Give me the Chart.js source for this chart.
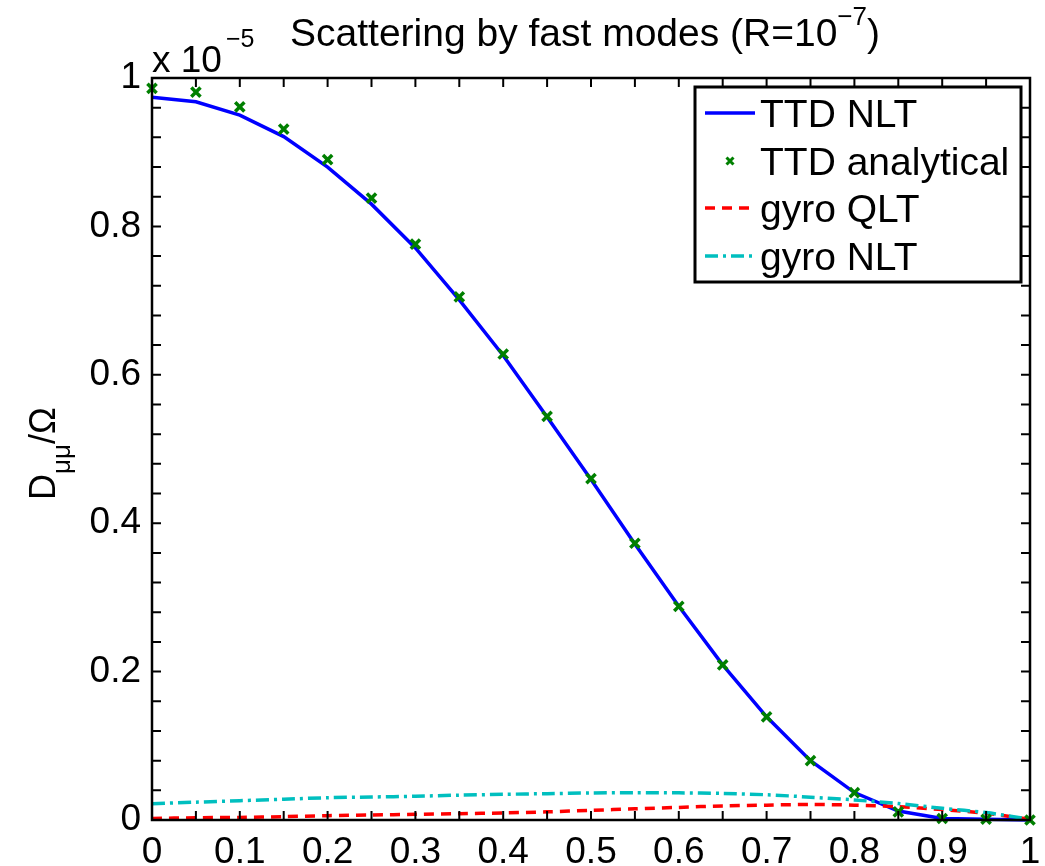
<!DOCTYPE html>
<html>
<head>
<meta charset="utf-8">
<script src="https://cdn.jsdelivr.net/npm/chart.js@4.4.1/dist/chart.umd.min.js"></script>
<style>
  html, body { margin: 0; padding: 0; background: #fff; }
  canvas { display: block; }
</style>
</head>
<body>
<canvas id="chart" width="1045" height="866"></canvas>
<script>
// pitch angle cosine mu
const mu = [0, 0.05, 0.1, 0.15, 0.2, 0.25, 0.3, 0.35, 0.4, 0.45, 0.5,
            0.55, 0.6, 0.65, 0.7, 0.75, 0.8, 0.85, 0.9, 0.95, 1];

// D_mumu / Omega, in units of 1e-5
const ttdNlt = [0.974, 0.968, 0.950, 0.921, 0.880, 0.830, 0.771, 0.701, 0.626, 0.543, 0.459,
                0.372, 0.288, 0.209, 0.139, 0.080, 0.037, 0.012, 0.002, 0.001, 0.000];
const ttdAnalytical = [0.986, 0.981, 0.961, 0.931, 0.890, 0.838, 0.776, 0.705, 0.628, 0.544, 0.460,
                       0.373, 0.288, 0.209, 0.139, 0.080, 0.037, 0.011, 0.002, 0.001, 0.000];
const gyroQlt = [0.002, 0.003, 0.0035, 0.0045, 0.0058, 0.0067, 0.0076, 0.0085, 0.0095, 0.011, 0.013,
                 0.015, 0.017, 0.019, 0.020, 0.021, 0.020, 0.018, 0.014, 0.009, 0.001];
const gyroNlt = [0.022, 0.024, 0.026, 0.028, 0.030, 0.031, 0.032, 0.0335, 0.0346, 0.0355, 0.0364,
                 0.0368, 0.0366, 0.0358, 0.0340, 0.0308, 0.027, 0.0222, 0.0157, 0.010, 0.001];

const xTicks = [0, 0.1, 0.2, 0.3, 0.4, 0.5, 0.6, 0.7, 0.8, 0.9, 1];
const yTicks = [0, 0.2, 0.4, 0.6, 0.8, 1];

const FONT = '"Liberation Sans", Arial, Helvetica, sans-serif';

const pts = (ys) => mu.map((x, i) => ({ x: x, y: ys[i] }));

// box, inward ticks, title, labels and legend, drawn the matlab way
const matlabFrame = {
  id: 'matlabFrame',
  afterDatasetsDraw(chart) {
    const ctx = chart.ctx;
    const a = chart.chartArea;
    const xs = chart.scales.x, ys = chart.scales.y;
    ctx.save();
    ctx.strokeStyle = '#000';
    ctx.lineWidth = 2.5;
    ctx.strokeRect(a.left, a.top, a.right - a.left, a.bottom - a.top);

    // inward ticks
    ctx.lineWidth = 2;
    ctx.beginPath();
    for (let i = 1; i < 20; i++) {
      const px = xs.getPixelForValue(i * 0.05);
      ctx.moveTo(px, a.bottom); ctx.lineTo(px, a.bottom - 9);
      ctx.moveTo(px, a.top); ctx.lineTo(px, a.top + 9);
    }
    for (let i = 1; i < 25; i++) {
      const py = ys.getPixelForValue(i * 0.04);
      ctx.moveTo(a.left, py); ctx.lineTo(a.left + 9, py);
      ctx.moveTo(a.right, py); ctx.lineTo(a.right - 9, py);
    }
    ctx.stroke();

    ctx.fillStyle = '#000';
    ctx.textBaseline = 'alphabetic';
    ctx.textAlign = 'left';

    // title with superscript
    const t1 = 'Scattering by fast modes (R=10', t2 = '\u22127', t3 = ')';
    ctx.font = '39px ' + FONT;
    const w1 = ctx.measureText(t1).width, w3 = ctx.measureText(t3).width;
    ctx.font = '26px ' + FONT;
    const w2 = ctx.measureText(t2).width;
    let tx = 585 - (w1 + w2 + w3) / 2;
    ctx.font = '39px ' + FONT;
    ctx.fillText(t1, tx, 46);
    ctx.font = '26px ' + FONT;
    ctx.fillText(t2, tx + w1, 25);
    ctx.font = '39px ' + FONT;
    ctx.fillText(t3, tx + w1 + w2, 46);

    // axis exponent
    ctx.font = '37px ' + FONT;
    ctx.fillText('x 10', a.left, 72);
    const wx = ctx.measureText('x 10').width;
    ctx.font = '25px ' + FONT;
    ctx.fillText('\u22125', a.left + wx + 4, 47);

    // y label D_mumu / Omega
    ctx.save();
    ctx.translate(55, 500);
    ctx.rotate(-Math.PI / 2);
    ctx.font = '36px ' + FONT;
    ctx.fillText('D', 0, 0);
    let lx = ctx.measureText('D').width;
    ctx.font = '26px ' + FONT;
    ctx.fillText('\u03bc\u03bc', lx, 15);
    lx += ctx.measureText('\u03bc\u03bc').width;
    ctx.font = '36px ' + FONT;
    ctx.fillText('/\u03a9', lx, 0);
    ctx.restore();

    // legend
    const L = 695, T = 87, R = 1021, B = 282;
    ctx.fillStyle = '#fff';
    ctx.fillRect(L, T, R - L, B - T);
    ctx.strokeStyle = '#000';
    ctx.lineWidth = 3;
    ctx.strokeRect(L, T, R - L, B - T);
    const rows = [113, 161, 208, 256];
    chart.data.datasets.forEach((ds, i) => {
      const yRow = rows[i];
      ctx.save();
      if (ds.showLine === false) {
        const r = 3.5;
        ctx.strokeStyle = ds.borderColor;
        ctx.lineWidth = 3;
        ctx.beginPath();
        ctx.moveTo(730 - r, yRow - r); ctx.lineTo(730 + r, yRow + r);
        ctx.moveTo(730 + r, yRow - r); ctx.lineTo(730 - r, yRow + r);
        ctx.stroke();
      } else {
        ctx.strokeStyle = ds.borderColor;
        ctx.lineWidth = ds.borderWidth;
        ctx.setLineDash(ds.borderDash || []);
        ctx.beginPath();
        ctx.moveTo(705, yRow); ctx.lineTo(755, yRow);
        ctx.stroke();
      }
      ctx.restore();
      ctx.fillStyle = '#000';
      ctx.font = '39px ' + FONT;
      ctx.fillText(ds.label, 760, yRow + 14);
    });
    ctx.restore();
  }
};

new Chart(document.getElementById('chart'), {
  type: 'line',
  data: {
    datasets: [
      {
        label: 'TTD NLT',
        data: pts(ttdNlt),
        borderColor: '#0000ff',
        borderWidth: 3.5,
        pointRadius: 0,
        tension: 0,
        clip: false,
        order: 4
      },
      {
        label: 'TTD analytical',
        data: pts(ttdAnalytical),
        showLine: false,
        borderColor: '#008000',
        backgroundColor: '#008000',
        pointStyle: 'crossRot',
        pointRadius: 6.5,
        pointBorderWidth: 3.5,
        clip: false,
        order: 1
      },
      {
        label: 'gyro QLT',
        data: pts(gyroQlt),
        borderColor: '#ff0000',
        borderWidth: 3.5,
        borderDash: [10, 7],
        pointRadius: 0,
        tension: 0.3,
        clip: false,
        order: 3
      },
      {
        label: 'gyro NLT',
        data: pts(gyroNlt),
        borderColor: '#00bfbf',
        borderWidth: 3.5,
        borderDash: [13, 5, 3, 5],
        pointRadius: 0,
        tension: 0.3,
        clip: false,
        order: 2
      }
    ]
  },
  options: {
    responsive: false,
    animation: false,
    devicePixelRatio: 1,
    layout: { padding: { left: 0, top: 78, right: 15, bottom: 0 } },
    plugins: {
      legend: { display: false },
      tooltip: { enabled: false },
      title: { display: false }
    },
    scales: {
      x: {
        type: 'linear',
        min: 0,
        max: 1,
        afterFit: (s) => {
          s.height = 46;
          s.paddingLeft = 0; s.paddingRight = 0;
        },
        afterBuildTicks: (s) => { s.ticks = xTicks.map(v => ({ value: v })); },
        ticks: {
          color: '#000',
          font: { family: FONT, size: 37 },
          padding: 11,
          maxRotation: 0,
          autoSkip: false,
          callback: (v) => String(v)
        },
        grid: { display: false, drawTicks: false },
        border: { display: false }
      },
      y: {
        min: 0,
        max: 1,
        afterFit: (s) => {
          s.width = 152;
          s.paddingTop = 0; s.paddingBottom = 0;
        },
        afterBuildTicks: (s) => { s.ticks = yTicks.map(v => ({ value: v })); },
        ticks: {
          color: '#000',
          font: { family: FONT, size: 37 },
          padding: 11,
          autoSkip: false,
          callback: (v) => String(v)
        },
        grid: { display: false, drawTicks: false },
        border: { display: false }
      }
    }
  },
  plugins: [matlabFrame]
});
</script>
</body>
</html>
